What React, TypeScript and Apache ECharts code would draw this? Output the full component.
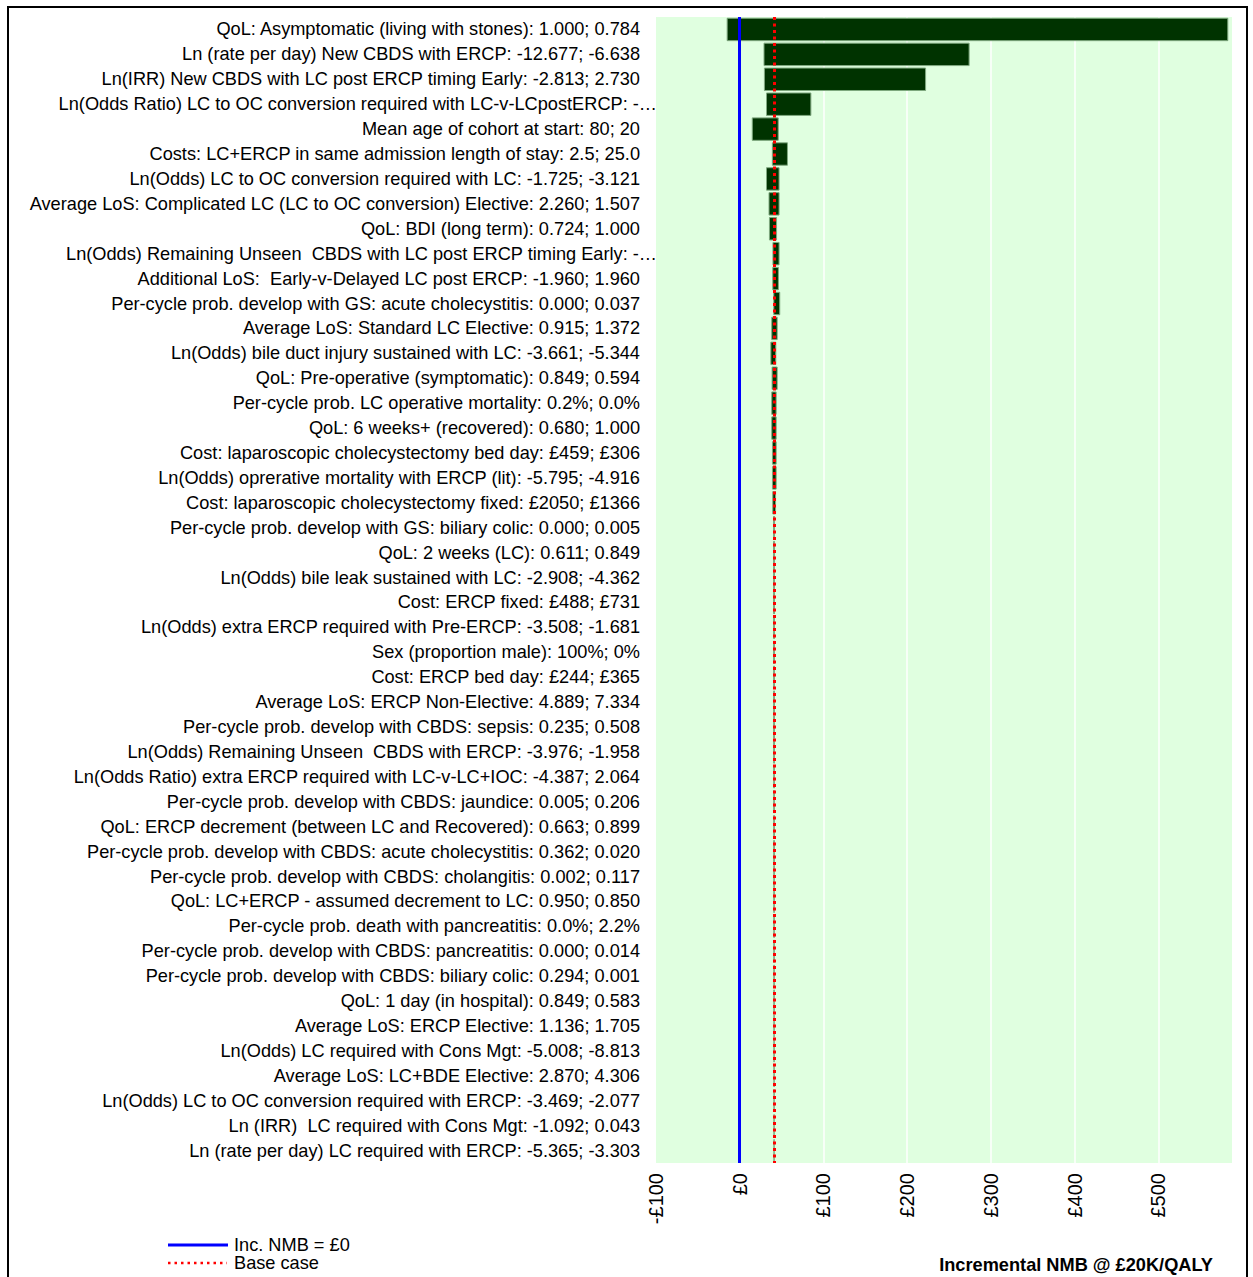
import React, { useEffect, useRef } from "react";
import * as echarts from "echarts";

const categories: string[] = [
  "QoL: Asymptomatic (living with stones): 1.000; 0.784",
  "Ln (rate per day) New CBDS with ERCP: -12.677; -6.638",
  "Ln(IRR) New CBDS with LC post ERCP timing Early: -2.813; 2.730",
  "Ln(Odds Ratio) LC to OC conversion required with LC-v-LCpostERCP: -…",
  "Mean age of cohort at start: 80; 20",
  "Costs: LC+ERCP in same admission length of stay: 2.5; 25.0",
  "Ln(Odds) LC to OC conversion required with LC: -1.725; -3.121",
  "Average LoS: Complicated LC (LC to OC conversion) Elective: 2.260; 1.507",
  "QoL: BDI (long term): 0.724; 1.000",
  "Ln(Odds) Remaining Unseen  CBDS with LC post ERCP timing Early: -…",
  "Additional LoS:  Early-v-Delayed LC post ERCP: -1.960; 1.960",
  "Per-cycle prob. develop with GS: acute cholecystitis: 0.000; 0.037",
  "Average LoS: Standard LC Elective: 0.915; 1.372",
  "Ln(Odds) bile duct injury sustained with LC: -3.661; -5.344",
  "QoL: Pre-operative (symptomatic): 0.849; 0.594",
  "Per-cycle prob. LC operative mortality: 0.2%; 0.0%",
  "QoL: 6 weeks+ (recovered): 0.680; 1.000",
  "Cost: laparoscopic cholecystectomy bed day: £459; £306",
  "Ln(Odds) oprerative mortality with ERCP (lit): -5.795; -4.916",
  "Cost: laparoscopic cholecystectomy fixed: £2050; £1366",
  "Per-cycle prob. develop with GS: biliary colic: 0.000; 0.005",
  "QoL: 2 weeks (LC): 0.611; 0.849",
  "Ln(Odds) bile leak sustained with LC: -2.908; -4.362",
  "Cost: ERCP fixed: £488; £731",
  "Ln(Odds) extra ERCP required with Pre-ERCP: -3.508; -1.681",
  "Sex (proportion male): 100%; 0%",
  "Cost: ERCP bed day: £244; £365",
  "Average LoS: ERCP Non-Elective: 4.889; 7.334",
  "Per-cycle prob. develop with CBDS: sepsis: 0.235; 0.508",
  "Ln(Odds) Remaining Unseen  CBDS with ERCP: -3.976; -1.958",
  "Ln(Odds Ratio) extra ERCP required with LC-v-LC+IOC: -4.387; 2.064",
  "Per-cycle prob. develop with CBDS: jaundice: 0.005; 0.206",
  "QoL: ERCP decrement (between LC and Recovered): 0.663; 0.899",
  "Per-cycle prob. develop with CBDS: acute cholecystitis: 0.362; 0.020",
  "Per-cycle prob. develop with CBDS: cholangitis: 0.002; 0.117",
  "QoL: LC+ERCP - assumed decrement to LC: 0.950; 0.850",
  "Per-cycle prob. death with pancreatitis: 0.0%; 2.2%",
  "Per-cycle prob. develop with CBDS: pancreatitis: 0.000; 0.014",
  "Per-cycle prob. develop with CBDS: biliary colic: 0.294; 0.001",
  "QoL: 1 day (in hospital): 0.849; 0.583",
  "Average LoS: ERCP Elective: 1.136; 1.705",
  "Ln(Odds) LC required with Cons Mgt: -5.008; -8.813",
  "Average LoS: LC+BDE Elective: 2.870; 4.306",
  "Ln(Odds) LC to OC conversion required with ERCP: -3.469; -2.077",
  "Ln (IRR)  LC required with Cons Mgt: -1.092; 0.043",
  "Ln (rate per day) LC required with ERCP: -5.365; -3.303",
];

const lowValues: number[] = [
  -15, 29, 29.5, 32, 15, 39, 32, 35, 35.5, 39.7,
  39.5, 40.7, 38.3, 37.2, 38.7, 38.3, 38.3, 39.1, 39.1, 39.5,
  40.4, 40.4, 40.5, 40.5, 40.5, 40.5, 40.6, 40.6, 40.6, 40.6,
  40.7, 40.7, 40.7, 40.7, 40.8, 40.8, 40.8, 40.8, 40.85, 40.85,
  40.9, 40.9, 40.95, 40.95, 40.97, 40.98,
];

const highValues: number[] = [
  583, 274, 222, 85, 46, 57, 47, 47, 44, 47,
  46.2, 47.8, 44.7, 43.1, 44.7, 43.5, 43.5, 43.5, 43.5, 42.8,
  41.6, 41.6, 41.5, 41.5, 41.5, 41.5, 41.4, 41.4, 41.4, 41.4,
  41.3, 41.3, 41.3, 41.3, 41.2, 41.2, 41.2, 41.2, 41.15, 41.15,
  41.1, 41.1, 41.05, 41.05, 41.03, 41.02,
];

const baseCase = 41;
const zeroLine = 0;
const xMin = -100;
const xMax = 588;
const xInterval = 100;

const truncatedRows = [3, 9];

const FONT = "'Liberation Sans', Arial, sans-serif";
const LABEL_SIZE = 18.2;
const TICK_SIZE = 20;

function fmtMoney(v: number): string {
  return v < 0 ? "-£" + Math.abs(v) : "£" + v;
}

export default function App() {
  const ref = useRef<HTMLDivElement>(null);

  useEffect(() => {
    if (!ref.current) return;
    const chart = echarts.init(ref.current, undefined, { renderer: "svg" });

    const yData = categories.map((c, i) =>
      truncatedRows.includes(i)
        ? { value: c, textStyle: { padding: [0, -17, 0, 0] } }
        : c
    );

    const seriesData = categories.map((_, i) => [i, lowValues[i], highValues[i]]);

    chart.setOption({
      animation: false,
      backgroundColor: "#ffffff",
      textStyle: { fontFamily: FONT },
      grid: {
        left: 656,
        right: 21,
        top: 17,
        bottom: 114,
        show: true,
        backgroundColor: "#e0ffe0",
        borderWidth: 0,
        containLabel: false,
      },
      xAxis: {
        type: "value",
        min: xMin,
        max: xMax,
        interval: xInterval,
        axisLine: { show: false },
        axisTick: { show: false },
        axisLabel: {
          rotate: 90,
          fontSize: TICK_SIZE,
          fontFamily: FONT,
          color: "#000",
          margin: 10,
          showMaxLabel: false,
          formatter: (v: number) => fmtMoney(v),
        },
        splitLine: {
          show: true,
          showMinLine: false,
          showMaxLine: false,
          lineStyle: { color: "#ffffff", width: 1.5 },
        },
      },
      yAxis: {
        type: "category",
        inverse: true,
        data: yData,
        axisLine: { show: false },
        axisTick: { show: false },
        splitLine: { show: false },
        axisLabel: {
          fontSize: LABEL_SIZE,
          fontFamily: FONT,
          color: "#000",
          margin: 16,
          interval: 0,
        },
      },
      series: [
        {
          type: "custom",
          encode: { x: [1, 2], y: 0 },
          data: seriesData,
          renderItem: (params: any, api: any) => {
            const idx = api.value(0);
            const lo = api.value(1);
            const hi = api.value(2);
            const p1 = api.coord([lo, idx]);
            const p2 = api.coord([hi, idx]);
            const h = api.size([0, 1])[1] * 0.9;
            return {
              type: "rect",
              shape: { x: p1[0], y: p1[1] - h / 2, width: p2[0] - p1[0], height: h },
              style: { fill: "#003300", stroke: "#7fa87f", lineWidth: 1 },
            };
          },
          markLine: {
            silent: true,
            symbol: "none",
            z: 10,
            label: { show: false },
            data: [
              { xAxis: zeroLine, lineStyle: { color: "#0000ff", width: 3, type: "solid" } },
              { xAxis: baseCase, lineStyle: { color: "#ff0000", width: 3, type: [3, 3.5] } },
            ],
          },
        },
      ],
      graphic: [
        {
          type: "rect",
          silent: true,
          shape: { x: 8, y: 7, width: 1239, height: 1300 },
          style: { fill: "none", stroke: "#000", lineWidth: 2 },
        },
        {
          type: "line",
          silent: true,
          shape: { x1: 168, y1: 1245, x2: 228, y2: 1245 },
          style: { stroke: "#0000ff", lineWidth: 3 },
        },
        {
          type: "text",
          x: 234,
          y: 1245,
          style: {
            text: "Inc. NMB = £0",
            font: LABEL_SIZE + "px " + FONT,
            fill: "#000",
            verticalAlign: "middle",
            align: "left",
          },
        },
        {
          type: "line",
          silent: true,
          shape: { x1: 168, y1: 1263, x2: 227, y2: 1263 },
          style: { stroke: "#ff0000", lineWidth: 2.5, lineDash: [2.5, 4] },
        },
        {
          type: "text",
          x: 234,
          y: 1263,
          style: {
            text: "Base case",
            font: LABEL_SIZE + "px " + FONT,
            fill: "#000",
            verticalAlign: "middle",
            align: "left",
          },
        },
        {
          type: "text",
          x: 1213,
          y: 1265,
          style: {
            text: "Incremental NMB @ £20K/QALY",
            font: "bold " + LABEL_SIZE + "px " + FONT,
            fill: "#000",
            verticalAlign: "middle",
            align: "right",
          },
        },
      ],
    });

    return () => chart.dispose();
  }, []);

  return (
    <div
      ref={ref}
      style={{ position: "fixed", left: 0, top: 0, width: 1253, height: 1277 }}
    />
  );
}
